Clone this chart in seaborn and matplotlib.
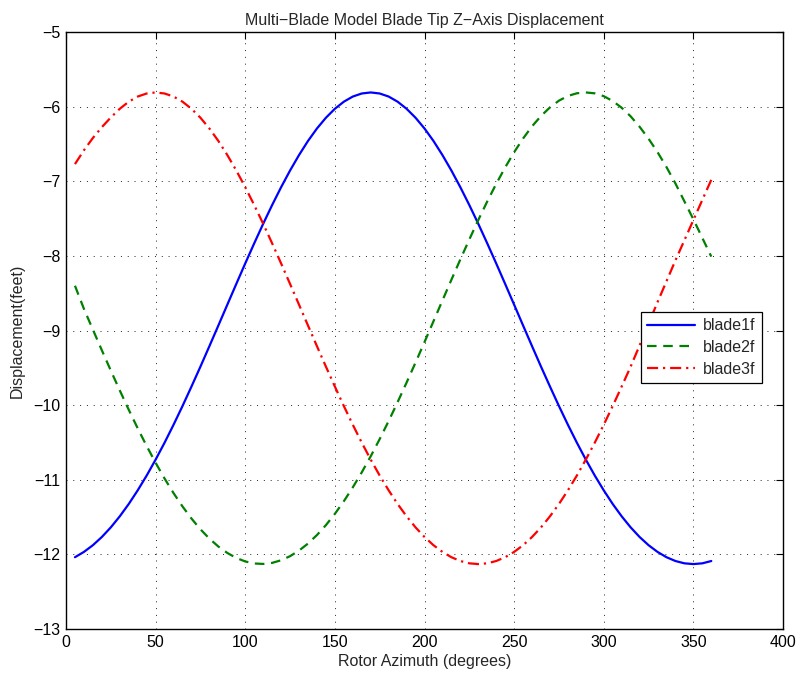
import matplotlib
matplotlib.use("Agg")
import matplotlib.pyplot as plt
import seaborn as sns
import pandas as pd

# Rotor azimuth (degrees)
azimuth = [5, 10, 15, 20, 25, 30, 35, 40, 45, 50, 55, 60, 65, 70, 75, 80, 85, 90,
           95, 100, 105, 110, 115, 120, 125, 130, 135, 140, 145, 150, 155, 160, 165, 170,
           175, 180, 185, 190, 195, 200, 205, 210, 215, 220, 225, 230, 235, 240, 245, 250,
           255, 260, 265, 270, 275, 280, 285, 290, 295, 300, 305, 310, 315, 320, 325, 330,
           335, 340, 345, 350, 355, 360]

blade1f = [-12.038, -11.967, -11.877, -11.767, -11.638, -11.490, -11.325, -11.142, -10.944,
           -10.730, -10.503, -10.263, -10.012, -9.751, -9.484, -9.210, -8.933, -8.654,
           -8.376, -8.101, -7.832, -7.570, -7.319, -7.080, -6.856, -6.649, -6.460, -6.293,
           -6.149, -6.029, -5.934, -5.865, -5.824, -5.810, -5.824, -5.865, -5.934, -6.029,
           -6.149, -6.293, -6.460, -6.649, -6.856, -7.080, -7.319, -7.570, -7.832, -8.101,
           -8.376, -8.654, -8.933, -9.210, -9.484, -9.751, -10.012, -10.263, -10.503,
           -10.730, -10.944, -11.142, -11.325, -11.490, -11.638, -11.767, -11.877, -11.967,
           -12.038, -12.089, -12.120, -12.130, -12.120, -12.089]

blade2f = [-8.400, -8.710, -8.988, -9.265, -9.537, -9.803, -10.062, -10.311, -10.548,
           -10.773, -10.984, -11.179, -11.358, -11.520, -11.664, -11.789, -11.895, -11.981,
           -12.048, -12.095, -12.122, -12.128, -12.114, -12.079, -12.024, -11.949, -11.855,
           -11.741, -11.608, -11.457, -11.288, -11.102, -10.901, -10.685, -10.455, -10.213,
           -9.960, -9.698, -9.429, -9.155, -8.877, -8.598, -8.321, -8.047, -7.780, -7.520,
           -7.271, -7.035, -6.815, -6.611, -6.427, -6.264, -6.125, -6.010, -5.920, -5.857,
           -5.821, -5.810, -5.822, -5.860, -5.925, -6.015, -6.130, -6.270, -6.430, -6.610,
           -6.810, -7.030, -7.270, -7.510, -7.760, -8.010]

blade3f = [-6.770, -6.585, -6.420, -6.275, -6.145, -6.029, -5.934, -5.865, -5.824, -5.810,
           -5.824, -5.865, -5.934, -6.029, -6.149, -6.293, -6.460, -6.649, -6.856, -7.080,
           -7.319, -7.570, -7.832, -8.101, -8.376, -8.654, -8.933, -9.210, -9.484, -9.751,
           -10.012, -10.263, -10.503, -10.730, -10.944, -11.142, -11.325, -11.490, -11.638,
           -11.767, -11.877, -11.967, -12.038, -12.089, -12.120, -12.130, -12.120, -12.089,
           -12.038, -11.967, -11.877, -11.767, -11.638, -11.490, -11.325, -11.142, -10.944,
           -10.730, -10.503, -10.263, -10.012, -9.751, -9.484, -9.200, -8.910, -8.620,
           -8.340, -8.060, -7.790, -7.520, -7.250, -6.980]

series_names = ["blade1f", "blade2f", "blade3f"]
series_colors = ["#0000ff", "#008000", "#ff0000"]
series_styles = ["-", (0, (4.3, 3.0)), (0, (5, 2.2, 1, 2.2))]

x_ticks = [0, 50, 100, 150, 200, 250, 300, 350, 400]
y_ticks = [-13, -12, -11, -10, -9, -8, -7, -6, -5]

df = pd.DataFrame({
    "azimuth": azimuth * 3,
    "disp": blade1f + blade2f + blade3f,
    "blade": sum([[n] * len(azimuth) for n in series_names], []),
})

sns.set_style("white")
plt.rcParams["font.family"] = ["Liberation Sans", "DejaVu Sans"]

fig = plt.figure(figsize=(7.98, 6.77), dpi=100)
ax = fig.add_axes([66 / 798, 1 - 629 / 677, (783 - 66) / 798, (629 - 32) / 677])

for name, col, ls in zip(series_names, series_colors, series_styles):
    sub = df[df["blade"] == name]
    sns.lineplot(data=sub, x="azimuth", y="disp", ax=ax, color=col, lw=1.6,
                 linestyle=ls, label=name, sort=True, estimator=None)

ax.set_xlim(0, 400)
ax.set_ylim(-13, -5)
ax.set_xticks(x_ticks)
ax.set_yticks(y_ticks)
ax.grid(True, color="#222222", linestyle=(0, (1, 6)), linewidth=0.7)
ax.tick_params(direction="in", length=5, width=0.8, top=True, right=True,
               labelsize=11.5, colors="black", pad=4)
for s in ax.spines.values():
    s.set_visible(True)
    s.set_color("black")
    s.set_linewidth(1.0)

ax.set_xlabel("Rotor Azimuth (degrees)", fontsize=11.5, labelpad=3)
ax.set_ylabel("Displacement(feet)", fontsize=11.5, labelpad=6)
ax.set_title("Multi\u2212Blade Model Blade Tip Z\u2212Axis Displacement", fontsize=11.5, pad=5)

leg = ax.legend(loc="upper left", bbox_to_anchor=(0.802, 0.531), borderaxespad=0,
                fancybox=False, edgecolor="black", framealpha=1, fontsize=11.5,
                handlelength=3.0, handletextpad=0.5, borderpad=0.4, labelspacing=0.42)
leg.get_frame().set_linewidth(0.9)

fig.savefig("out.png", dpi=100)
